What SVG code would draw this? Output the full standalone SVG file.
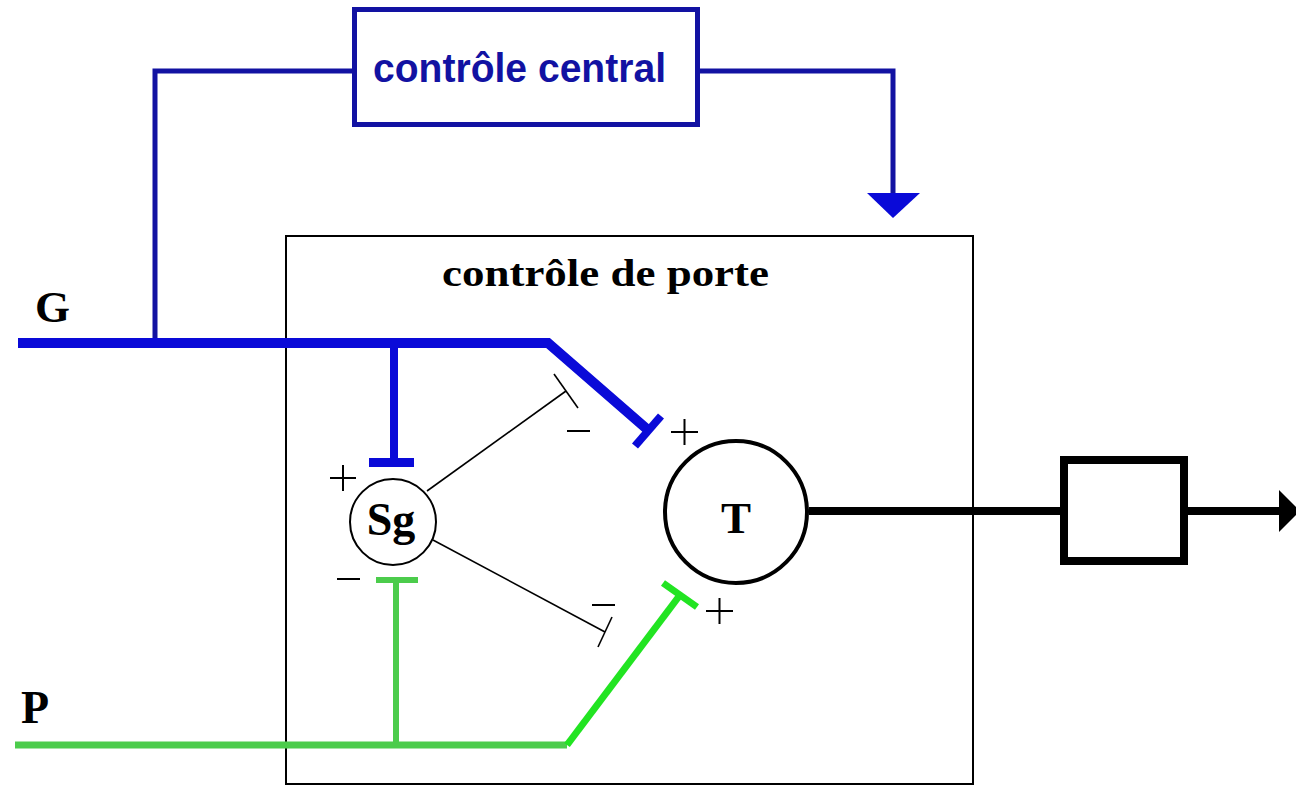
<svg xmlns="http://www.w3.org/2000/svg" width="1296" height="787" viewBox="0 0 1296 787">
<style>
.serif{font-family:"Liberation Serif","Times New Roman",serif;font-weight:bold;fill:#000}
.sign{stroke:#000;stroke-width:2;fill:none}
.thin{stroke:#000;stroke-width:1.6;fill:none}
.dblue{stroke:#1212a2;stroke-width:5;fill:none}
.blue{stroke:#0a0ad8;fill:none}
.green{stroke:#4ccc4c;fill:none}
.bgreen{stroke:#22e422;fill:none}
</style>
<rect width="1296" height="787" fill="#fff"/>
<g id="central">
<rect x="354.5" y="9.5" width="343" height="115" fill="#fff" stroke="#1212a2" stroke-width="5"/>
<text x="373" y="82" font-family="'Liberation Sans',Arial,sans-serif" font-weight="bold" font-size="41" fill="#1212a2" textLength="293" lengthAdjust="spacingAndGlyphs">contrôle central</text>
</g>
<g id="porte">
<rect x="286" y="236" width="687" height="548" fill="none" stroke="#000" stroke-width="2"/>
<text x="442" y="286" class="serif" font-size="37" textLength="327" lengthAdjust="spacingAndGlyphs">contrôle de porte</text>
</g>
<g id="labels">
<text x="35" y="322" class="serif" font-size="45">G</text>
<text x="21" y="723" class="serif" font-size="46">P</text>
</g>
<g id="connectors">
<polyline class="dblue" points="352,71 155,71 155,343"/>
<polyline class="dblue" points="700,71 893,71 893,196"/>
<polygon points="867,193 920,193 893,218" fill="#0a0ad8"/>
<polyline class="blue" stroke-width="10" points="18,343 548,343 648,430"/>
<line class="blue" stroke-width="8" x1="661" y1="416" x2="635" y2="446"/>
<line class="blue" stroke-width="8" x1="394" y1="343" x2="394" y2="462"/>
<line class="blue" stroke-width="9" x1="369" y1="462.5" x2="414" y2="462.5"/>
<polyline class="green" stroke-width="7" points="15,745 567,745"/>
<line class="green" stroke-width="6" x1="396" y1="745" x2="396" y2="580"/>
<line class="green" stroke-width="6" x1="376" y1="580" x2="418" y2="580"/>
<line class="bgreen" stroke-width="7" x1="567" y1="745" x2="680" y2="595"/>
<line class="bgreen" stroke-width="7" x1="663" y1="583" x2="697" y2="607"/>
<line class="thin" x1="427" y1="491" x2="566" y2="391"/>
<line class="thin" x1="554" y1="374" x2="578" y2="408"/>
<line class="thin" x1="433" y1="540" x2="605" y2="632"/>
<line class="thin" x1="612" y1="617" x2="598" y2="647"/>
<line stroke="#000" stroke-width="8" x1="809" y1="511" x2="1064" y2="511"/>
<line stroke="#000" stroke-width="8" x1="1188" y1="511" x2="1282" y2="511"/>
<polygon points="1279,490 1279,532 1300,511" fill="#000"/>
</g>
<g id="Sg">
<circle cx="393" cy="522" r="43" fill="#fff" stroke="#000" stroke-width="2"/>
<text x="391" y="535" class="serif" font-size="46" text-anchor="middle">Sg</text>
</g>
<g id="T">
<circle cx="736" cy="512" r="71" fill="#fff" stroke="#000" stroke-width="4"/>
<text x="736" y="533" class="serif" font-size="45" text-anchor="middle">T</text>
</g>
<g id="box">
<rect x="1064" y="460" width="120" height="101" fill="#fff" stroke="#000" stroke-width="8"/>
</g>
<g id="signs">
<path class="sign" d="M330,478 H356 M343,465 V491"/>
<path class="sign" d="M337,579 H360"/>
<path class="sign" d="M567,431 H590"/>
<path class="sign" d="M592,605 H615"/>
<path class="sign" d="M671,432 H698 M684.5,419 V445"/>
<path class="sign" d="M706,611 H733 M719.5,598 V624"/>
</g>
</svg>
